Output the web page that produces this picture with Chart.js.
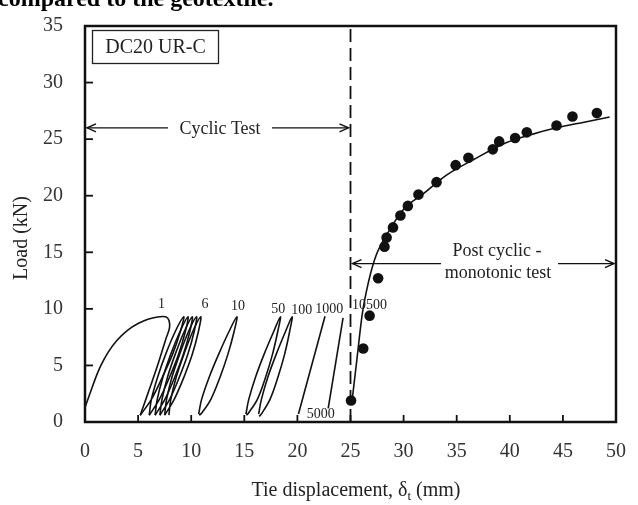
<!DOCTYPE html>
<html><head><meta charset="utf-8">
<script src="https://cdn.jsdelivr.net/npm/chart.js@4.4.0/dist/chart.umd.min.js"></script>
<style>html,body{margin:0;padding:0;background:#fff;}#wrap{width:638px;height:505px;position:relative;}</style>
</head><body><div id="wrap"><canvas id="c" width="638" height="505"></canvas></div>
<script>
const xTicks = [0,5,10,15,20,25,30,35,40,45,50];
const yTicks = [0,5,10,15,20,25,30,35];
// cyclic test paths (x = tie displacement mm, y = load kN)
const cycle1 = [[0,1.3],[0.5,2.6],[1.0,3.9],[1.5,5.0],[2.2,6.2],[3,7.2],[4,8.1],[5,8.7],[6,9.1],[7,9.3],[7.6,9.3],[7.9,9.0],[7.95,8.3],[7.6,7.3],[6.9,5.2],[6.1,3.0],[5.5,1.4],[5.2,0.6]];
const cycle2 = [[5.2,0.6],[6.25,2],[7.3,4],[8.25,6],[8.98,8],[9.3,9.3],[8.5,8],[7.6,6],[6.85,4],[6.25,2],[6.05,0.6]];
const cycle3 = [[6.05,0.6],[7.0,2],[7.98,4],[8.82,6],[9.45,8],[9.7,9.3],[8.95,8],[8.08,6],[7.35,4],[6.8,2],[6.6,0.6]];
const cycle4 = [[6.6,0.6],[7.52,2],[8.47,4],[9.27,6],[9.87,8],[10.1,9.3],[9.35,8],[8.5,6],[7.78,4],[7.25,2],[7.05,0.6]];
const cycle5 = [[7.05,0.6],[7.97,2],[8.9,4],[9.69,6],[10.28,8],[10.5,9.3],[9.75,8],[8.92,6],[8.2,4],[7.68,2],[7.5,0.6]];
const cycle6 = [[7.5,0.6],[8.4,2],[9.33,4],[10.11,6],[10.68,8],[10.9,9.3],[10.15,8],[9.32,6],[8.6,4],[8.08,2],[7.9,0.6]];
const cycle10 = [[10.75,0.6],[11.0,0.8],[11.85,2],[12.73,4],[13.46,6],[14.04,8],[14.3,9.3],[13.56,8],[12.59,6],[11.71,4],[10.98,2],[10.7,0.7]];
const cycle50 = [[15.2,0.6],[15.4,0.8],[16.23,2],[17.02,4],[17.66,6],[18.15,8],[18.4,9.3],[17.77,8],[16.87,6],[16.07,4],[15.42,2],[15.15,0.7]];
const cycle100 = [[16.4,0.5],[16.6,0.7],[17.42,2],[18.18,4],[18.8,6],[19.27,8],[19.5,9.3],[18.88,8],[18.01,6],[17.23,4],[16.61,2],[16.35,0.7]];
const cycle1000 = [[20.1,0.7],[22.6,9.35]];
const cycle5000 = [[22.9,1.2],[24.3,9.2]];
const cycleLabels = ["1","6","10","50","100","1000","10500","5000"];
const cycleLabelX = [7.2,11.3,14.4,18.2,20.4,23.0,26.8,22.2];
const cycleLabelY = [10.4,10.4,10.2,10.0,9.9,10.0,10.3,0.7];
// post-cyclic monotonic test
const monoX = [25.05,26.2,26.8,27.6,28.2,28.4,29.0,29.7,30.4,31.4,33.1,34.9,36.1,38.4,39.0,40.5,41.6,44.4,45.9,48.2];
const monoY = [1.9,6.5,9.4,12.7,15.5,16.3,17.2,18.25,19.1,20.1,21.2,22.7,23.35,24.1,24.8,25.1,25.6,26.2,27.0,27.3];
const fitX = [25.1,25.6,26.1,26.7,27.4,28.7,30.0,31.9,34.0,36.6,39.7,42.0,44.4,47.0,49.4];
const fitY = [1.5,5.5,9.5,12.4,14.7,17.0,18.8,20.2,21.8,23.2,24.7,25.4,26.0,26.5,26.95];
const dividerX = 25;

const serif = "'Liberation Serif','Times New Roman',serif";
const ink = '#111';
const pts = a => a.map(p => ({x:p[0], y:p[1]}));
const loopDs = (a) => ({data: pts(a), showLine:true, borderColor:ink, borderWidth:1.6, pointRadius:0, tension:0.35, fill:false});

const deco = {
  id:'deco',
  afterDatasetsDraw(chart){
    const {ctx, chartArea:ca, scales:{x, y}} = chart;
    ctx.save();
    ctx.strokeStyle = ink; ctx.fillStyle = ink;
    // frame
    ctx.lineWidth = 2.5;
    ctx.strokeRect(ca.left, ca.top, ca.right-ca.left, ca.bottom-ca.top);
    // inward ticks
    ctx.lineWidth = 1.8;
    xTicks.forEach(v => { if (v===0||v===50) return; const px = x.getPixelForValue(v); ctx.beginPath(); ctx.moveTo(px, ca.bottom); ctx.lineTo(px, ca.bottom-7); ctx.stroke(); });
    yTicks.forEach(v => { if (v===0||v===35) return; const py = y.getPixelForValue(v); ctx.beginPath(); ctx.moveTo(ca.left, py); ctx.lineTo(ca.left+8, py); ctx.stroke(); });
    // arrows
    const arrow = (x0, x1, yy, gap0, gap1) => {
      const a = x.getPixelForValue(x0)+2, b = x.getPixelForValue(x1)-2, py = y.getPixelForValue(yy);
      ctx.lineWidth = 1.4;
      ctx.beginPath(); ctx.moveTo(a, py); ctx.lineTo(gap0, py); ctx.moveTo(gap1, py); ctx.lineTo(b, py); ctx.stroke();
      ctx.beginPath(); ctx.moveTo(a+9, py-4); ctx.lineTo(a, py); ctx.lineTo(a+9, py+4); ctx.stroke();
      ctx.beginPath(); ctx.moveTo(b-9, py-4); ctx.lineTo(b, py); ctx.lineTo(b-9, py+4); ctx.stroke();
    };
    arrow(0, 25, 26, 168, 272);
    arrow(25, 50, 14, 441, 558);
    ctx.fillStyle = '#222';
    ctx.font = '18px ' + serif; ctx.textAlign = 'center'; ctx.textBaseline = 'middle';
    ctx.fillText('Cyclic Test', 220, y.getPixelForValue(26)+1);
    ctx.fillText('Post cyclic -', 497, 251);
    ctx.fillText('monotonic test', 498, 273);
    // cycle labels
    ctx.font = '14px ' + serif; ctx.textBaseline = 'middle';
    cycleLabels.forEach((t, i) => ctx.fillText(t, x.getPixelForValue(cycleLabelX[i]), y.getPixelForValue(cycleLabelY[i])));
    // specimen box
    ctx.lineWidth = 1.3; ctx.strokeStyle = '#222';
    ctx.strokeRect(92.5, 30.5, 126, 33);
    ctx.font = '20px ' + serif; ctx.textAlign = 'center';
    ctx.fillText('DC20 UR-C', 155.5, 48);
    ctx.restore();
  },
  afterDraw(chart){
    const {ctx} = chart;
    ctx.save();
    ctx.fillStyle = '#222';
    // axis titles
    ctx.textBaseline = 'alphabetic'; ctx.textAlign = 'left';
    const s1 = 'Tie displacement, \u03b4', s2 = 't', s3 = ' (mm)';
    ctx.font = '20px ' + serif; const w1 = ctx.measureText(s1).width, w3 = ctx.measureText(s3).width;
    ctx.font = '13px ' + serif; const w2 = ctx.measureText(s2).width;
    let sx = 356 - (w1+w2+w3)/2;
    ctx.font = '20px ' + serif; ctx.fillText(s1, sx, 496);
    ctx.font = '13px ' + serif; ctx.fillText(s2, sx+w1, 500);
    ctx.font = '20px ' + serif; ctx.fillText(s3, sx+w1+w2, 496);
    ctx.translate(22, 238); ctx.rotate(-Math.PI/2);
    ctx.textAlign = 'center'; ctx.textBaseline = 'middle';
    ctx.fillText('Load (kN)', 0, 0);
    ctx.restore();
    // cropped caption line from the page above the figure
    ctx.save();
    ctx.fillStyle = '#000'; ctx.font = 'bold 24px ' + serif; ctx.textAlign = 'left'; ctx.textBaseline = 'alphabetic';
    ctx.fillText('compared to the geotextile.', -2, 6);
    ctx.restore();
  }
};

new Chart(document.getElementById('c'), {
  type:'scatter',
  data:{datasets:[
    loopDs(cycle1), loopDs(cycle2), loopDs(cycle3), loopDs(cycle4), loopDs(cycle5), loopDs(cycle6),
    loopDs(cycle10), loopDs(cycle50), loopDs(cycle100),
    {...loopDs(cycle1000), tension:0}, {...loopDs(cycle5000), tension:0},
    {data: pts([[dividerX,0],[dividerX,35]]), showLine:true, borderColor:ink, borderWidth:1.8, borderDash:[13,6], pointRadius:0},
    {data: fitX.map((v,i)=>({x:v, y:fitY[i]})), showLine:true, borderColor:ink, borderWidth:1.6, pointRadius:0, tension:0.4, cubicInterpolationMode:'monotone'},
    {data: monoX.map((v,i)=>({x:v, y:monoY[i]})), showLine:false, pointRadius:5.3, pointBackgroundColor:ink, pointBorderColor:ink, pointBorderWidth:0}
  ]},
  options:{
    responsive:false, animation:false, devicePixelRatio:1,
    layout:{padding:{top:20, right:22, left:0, bottom:0}},
    plugins:{legend:{display:false}, tooltip:{enabled:false}},
    scales:{
      x:{type:'linear', min:0, max:50, afterBuildTicks: s => { s.ticks = xTicks.map(v=>({value:v})); },
         grid:{display:false}, border:{display:false},
         ticks:{font:{family:serif, size:20}, color:'#333', padding:10, maxRotation:0},
         afterFit: s => { s.height = 83; }},
      y:{type:'linear', min:0, max:35, afterBuildTicks: s => { s.ticks = yTicks.map(v=>({value:v})); },
         grid:{display:false}, border:{display:false},
         ticks:{font:{family:serif, size:20}, color:'#333', padding:14},
         afterFit: s => { s.width = 85; }}
    }
  },
  plugins:[deco]
});
</script></body></html>
